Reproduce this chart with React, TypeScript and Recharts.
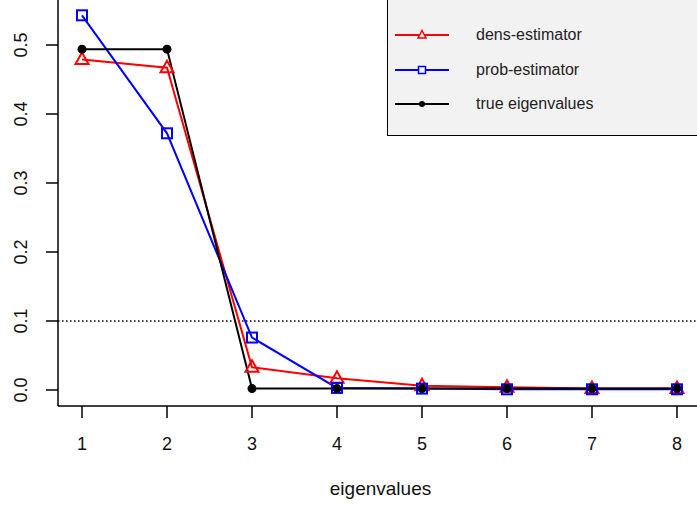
import { LineChart, Line, XAxis, YAxis, ReferenceLine, Label } from 'recharts';

const eigenIndex = [1, 2, 3, 4, 5, 6, 7, 8];
const densEstimator = [0.479, 0.467, 0.033, 0.017, 0.006, 0.004, 0.002, 0.002];
const probEstimator = [0.543, 0.372, 0.076, 0.003, 0.002, 0.001, 0.001, 0.001];
const trueEigenvalues = [0.494, 0.494, 0.002, 0.002, 0.002, 0.002, 0.002, 0.002];
const yTicks = [0, 0.1, 0.2, 0.3, 0.4, 0.5];
const threshold = 0.1;

const legendItems = [
  { name: 'dens-estimator', color: '#ff0000', shape: 'triangle' },
  { name: 'prob-estimator', color: '#0000ff', shape: 'square' },
  { name: 'true eigenvalues', color: '#000000', shape: 'dot' },
];

const data = eigenIndex.map((x, i) => ({
  x,
  dens: densEstimator[i],
  prob: probEstimator[i],
  truth: trueEigenvalues[i],
}));

const FONT = '"Liberation Sans", Arial, sans-serif';

const TriangleDot = (props: any) => {
  const { cx, cy } = props;
  if (cx == null || cy == null) return null;
  return (
    <path
      d={`M${cx},${cy - 7} L${cx - 6.5},${cy + 4.5} L${cx + 6.5},${cy + 4.5} Z`}
      fill="none"
      stroke="#ff0000"
      strokeWidth={2}
    />
  );
};

const SquareDot = (props: any) => {
  const { cx, cy } = props;
  if (cx == null || cy == null) return null;
  return <rect x={cx - 5} y={cy - 5} width={10} height={10} fill="none" stroke="#0000ff" strokeWidth={2} />;
};

const BlackDot = (props: any) => {
  const { cx, cy } = props;
  if (cx == null || cy == null) return null;
  return <circle cx={cx} cy={cy} r={4.5} fill="#000" />;
};

const YTick = (props: any) => {
  const { y, payload } = props;
  return (
    <text
      x={21}
      y={y}
      transform={`rotate(-90, 21, ${y})`}
      textAnchor="middle"
      dominantBaseline="central"
      fontSize={18}
      fontFamily={FONT}
      fill="#111"
    >
      {payload.value.toFixed(1)}
    </text>
  );
};

const XTick = (props: any) => {
  const { x, payload } = props;
  return (
    <text x={x} y={450} textAnchor="middle" fontSize={18} fontFamily={FONT} fill="#111">
      {payload.value}
    </text>
  );
};

const LegendIcon = ({ color, shape }: { color: string; shape: string }) => (
  <svg width={56} height={12} style={{ position: 'absolute', left: 7, top: -6 }}>
    <line x1={0} y1={6} x2={54} y2={6} stroke={color} strokeWidth={2} />
    {shape === 'triangle' && <path d="M27,1.5 L23,9 L31,9 Z" fill="#f2f2f2" stroke={color} strokeWidth={1.5} />}
    {shape === 'square' && <rect x={23.5} y={2.5} width={7} height={7} fill="#f2f2f2" stroke={color} strokeWidth={1.5} />}
    {shape === 'dot' && <circle cx={27} cy={6} r={3} fill={color} />}
  </svg>
);

export default function App() {
  return (
    <div style={{ position: 'absolute', left: 0, top: 0, width: 697, height: 511, overflow: 'hidden', background: '#fff' }}>
      <LineChart width={703} height={511} data={data} margin={{ top: 0, right: 0, bottom: 0, left: 0 }}>
        <XAxis
          dataKey="x"
          type="number"
          domain={[0.7176, 8.306]}
          ticks={eigenIndex}
          allowDataOverflow
          height={105}
          tickSize={12}
          tick={<XTick />}
          stroke="#000"
          strokeWidth={1.5}
        >
          <Label value="eigenvalues" position="insideBottom" offset={16} fontSize={19} fontFamily={FONT} fill="#111" />
        </XAxis>
        <YAxis
          type="number"
          domain={[-0.0232, 0.5652]}
          ticks={yTicks}
          allowDataOverflow
          width={58}
          tickSize={12}
          tick={<YTick />}
          stroke="#000"
          strokeWidth={1.5}
        />
        <ReferenceLine y={threshold} stroke="#000" strokeDasharray="1.5 2.5" strokeWidth={1.3} />
        <Line dataKey="dens" type="linear" stroke="#ff0000" strokeWidth={2} dot={<TriangleDot />} activeDot={false} isAnimationActive={false} />
        <Line dataKey="prob" type="linear" stroke="#0000ff" strokeWidth={2} dot={<SquareDot />} activeDot={false} isAnimationActive={false} />
        <Line dataKey="truth" type="linear" stroke="#000" strokeWidth={2} dot={<BlackDot />} activeDot={false} isAnimationActive={false} />
      </LineChart>
      <div
        style={{
          position: 'absolute',
          left: 387,
          top: -1,
          width: 320,
          height: 137,
          background: '#f2f2f2',
          border: '1px solid #000',
          boxSizing: 'border-box',
          fontFamily: FONT,
          fontSize: 16,
          color: '#222',
        }}
      >
        {legendItems.map((item, i) => (
          <div key={item.name} style={{ position: 'absolute', left: 0, top: 35 + i * 34.5 }}>
            <LegendIcon color={item.color} shape={item.shape} />
            <span style={{ position: 'absolute', left: 88, top: -10, whiteSpace: 'nowrap', lineHeight: '20px' }}>{item.name}</span>
          </div>
        ))}
      </div>
    </div>
  );
}
